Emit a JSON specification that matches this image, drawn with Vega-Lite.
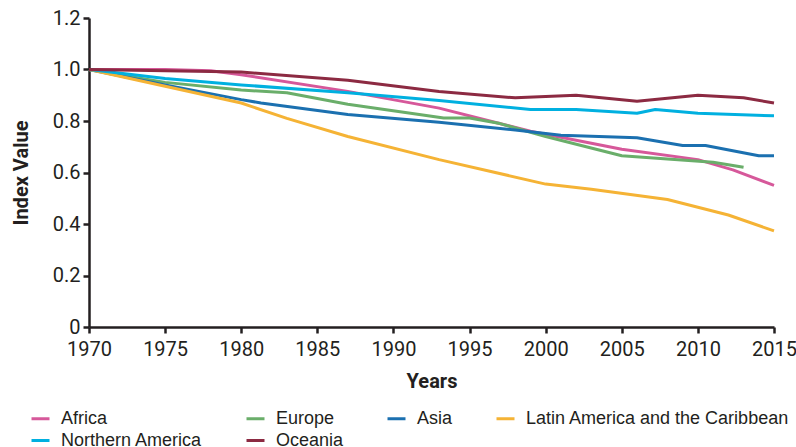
{
  "$schema": "https://vega.github.io/schema/vega-lite/v6.json",
  "autosize": "none",
  "width": 685,
  "height": 309,
  "padding": {"left": 89, "top": 18, "right": 22, "bottom": 120},
  "background": "white",
  "config": {
    "view": {"stroke": null},
    "font": "Roboto",
    "axis": {
      "domainColor": "#231f20", "domainWidth": 2.5,
      "tickColor": "#231f20", "tickWidth": 2.5, "tickSize": 6,
      "labelColor": "#231f20", "labelFont": "Roboto", "labelFontSize": 20, "labelFlush": false,
      "titleColor": "#231f20", "titleFont": "Roboto", "titleFontSize": 20, "titleFontWeight": "bold",
      "grid": false
    }
  },
  "data": {
    "values": [
      {"year": 1970, "region": "Africa", "value": 1.0},
      {"year": 1975, "region": "Africa", "value": 1.0},
      {"year": 1978, "region": "Africa", "value": 0.995},
      {"year": 1980, "region": "Africa", "value": 0.98},
      {"year": 1987, "region": "Africa", "value": 0.915},
      {"year": 1993, "region": "Africa", "value": 0.85},
      {"year": 1999, "region": "Africa", "value": 0.76},
      {"year": 2005, "region": "Africa", "value": 0.69},
      {"year": 2010, "region": "Africa", "value": 0.65},
      {"year": 2012.3, "region": "Africa", "value": 0.61},
      {"year": 2015, "region": "Africa", "value": 0.55},

      {"year": 1970, "region": "Europe", "value": 1.0},
      {"year": 1975, "region": "Europe", "value": 0.95},
      {"year": 1980, "region": "Europe", "value": 0.92},
      {"year": 1983, "region": "Europe", "value": 0.91},
      {"year": 1987, "region": "Europe", "value": 0.865},
      {"year": 1993.3, "region": "Europe", "value": 0.812},
      {"year": 1995, "region": "Europe", "value": 0.812},
      {"year": 1997, "region": "Europe", "value": 0.79},
      {"year": 2000, "region": "Europe", "value": 0.74},
      {"year": 2005, "region": "Europe", "value": 0.665},
      {"year": 2011, "region": "Europe", "value": 0.64},
      {"year": 2013, "region": "Europe", "value": 0.62},

      {"year": 1970, "region": "Asia", "value": 1.0},
      {"year": 1975, "region": "Asia", "value": 0.94},
      {"year": 1980, "region": "Asia", "value": 0.883},
      {"year": 1981.3, "region": "Asia", "value": 0.87},
      {"year": 1987, "region": "Asia", "value": 0.825},
      {"year": 1993, "region": "Asia", "value": 0.795},
      {"year": 1998, "region": "Asia", "value": 0.765},
      {"year": 2001, "region": "Asia", "value": 0.745},
      {"year": 2006, "region": "Asia", "value": 0.735},
      {"year": 2009, "region": "Asia", "value": 0.705},
      {"year": 2010.5, "region": "Asia", "value": 0.705},
      {"year": 2014, "region": "Asia", "value": 0.665},
      {"year": 2015, "region": "Asia", "value": 0.665},

      {"year": 1970, "region": "Latin America and the Caribbean", "value": 1.0},
      {"year": 1975, "region": "Latin America and the Caribbean", "value": 0.935},
      {"year": 1980, "region": "Latin America and the Caribbean", "value": 0.87},
      {"year": 1983, "region": "Latin America and the Caribbean", "value": 0.81},
      {"year": 1987, "region": "Latin America and the Caribbean", "value": 0.74},
      {"year": 1993, "region": "Latin America and the Caribbean", "value": 0.65},
      {"year": 2000, "region": "Latin America and the Caribbean", "value": 0.555},
      {"year": 2003, "region": "Latin America and the Caribbean", "value": 0.535},
      {"year": 2008, "region": "Latin America and the Caribbean", "value": 0.495},
      {"year": 2012, "region": "Latin America and the Caribbean", "value": 0.435},
      {"year": 2015, "region": "Latin America and the Caribbean", "value": 0.373},

      {"year": 1970, "region": "Northern America", "value": 1.0},
      {"year": 1975, "region": "Northern America", "value": 0.965},
      {"year": 1980, "region": "Northern America", "value": 0.94},
      {"year": 1987, "region": "Northern America", "value": 0.91},
      {"year": 1993, "region": "Northern America", "value": 0.88},
      {"year": 1999, "region": "Northern America", "value": 0.845},
      {"year": 2002, "region": "Northern America", "value": 0.845},
      {"year": 2006, "region": "Northern America", "value": 0.83},
      {"year": 2007.2, "region": "Northern America", "value": 0.845},
      {"year": 2010, "region": "Northern America", "value": 0.83},
      {"year": 2015, "region": "Northern America", "value": 0.82},

      {"year": 1970, "region": "Oceania", "value": 1.0},
      {"year": 1980, "region": "Oceania", "value": 0.99},
      {"year": 1987, "region": "Oceania", "value": 0.958},
      {"year": 1993, "region": "Oceania", "value": 0.915},
      {"year": 1998, "region": "Oceania", "value": 0.89},
      {"year": 2002, "region": "Oceania", "value": 0.9},
      {"year": 2006, "region": "Oceania", "value": 0.877},
      {"year": 2010, "region": "Oceania", "value": 0.9},
      {"year": 2013, "region": "Oceania", "value": 0.89},
      {"year": 2015, "region": "Oceania", "value": 0.87}
    ]
  },
  "mark": {"type": "line", "strokeWidth": 3, "strokeCap": "butt", "strokeJoin": "round"},
  "encoding": {
    "x": {
      "field": "year", "type": "quantitative",
      "scale": {"domain": [1970, 2015], "nice": false, "zero": false},
      "axis": {"values": [1970,1975,1980,1985,1990,1995,2000,2005,2010,2015], "format": "d", "title": "Years", "labelPadding": 6, "titlePadding": 12}
    },
    "y": {
      "field": "value", "type": "quantitative",
      "scale": {"domain": [0, 1.2], "nice": false},
      "axis": {"values": [0,0.2,0.4,0.6,0.8,1.0,1.2], "labelExpr": "datum.value == 0 ? '0' : format(datum.value, '.1f')", "title": "Index Value", "labelPadding": 3, "titlePadding": 21}
    },
    "color": {
      "field": "region", "type": "nominal",
      "scale": {
        "domain": ["Africa", "Europe", "Asia", "Latin America and the Caribbean", "Northern America", "Oceania"],
        "range": ["#d6589a", "#6aae6a", "#1b70b0", "#f5b335", "#00b0e0", "#8c2a42"]
      },
      "legend": {
        "title": null, "orient": "none", "legendX": -59, "legendY": 390,
        "direction": "horizontal", "columns": 4, "gridAlign": "each",
        "columnPadding": 37, "rowPadding": 2,
        "symbolType": "stroke", "symbolSize": 324, "symbolStrokeWidth": 3,
        "labelFont": "Liberation Sans", "labelFontSize": 18, "labelColor": "#231f20", "labelOffset": 10, "labelLimit": 400
      }
    }
  }
}
